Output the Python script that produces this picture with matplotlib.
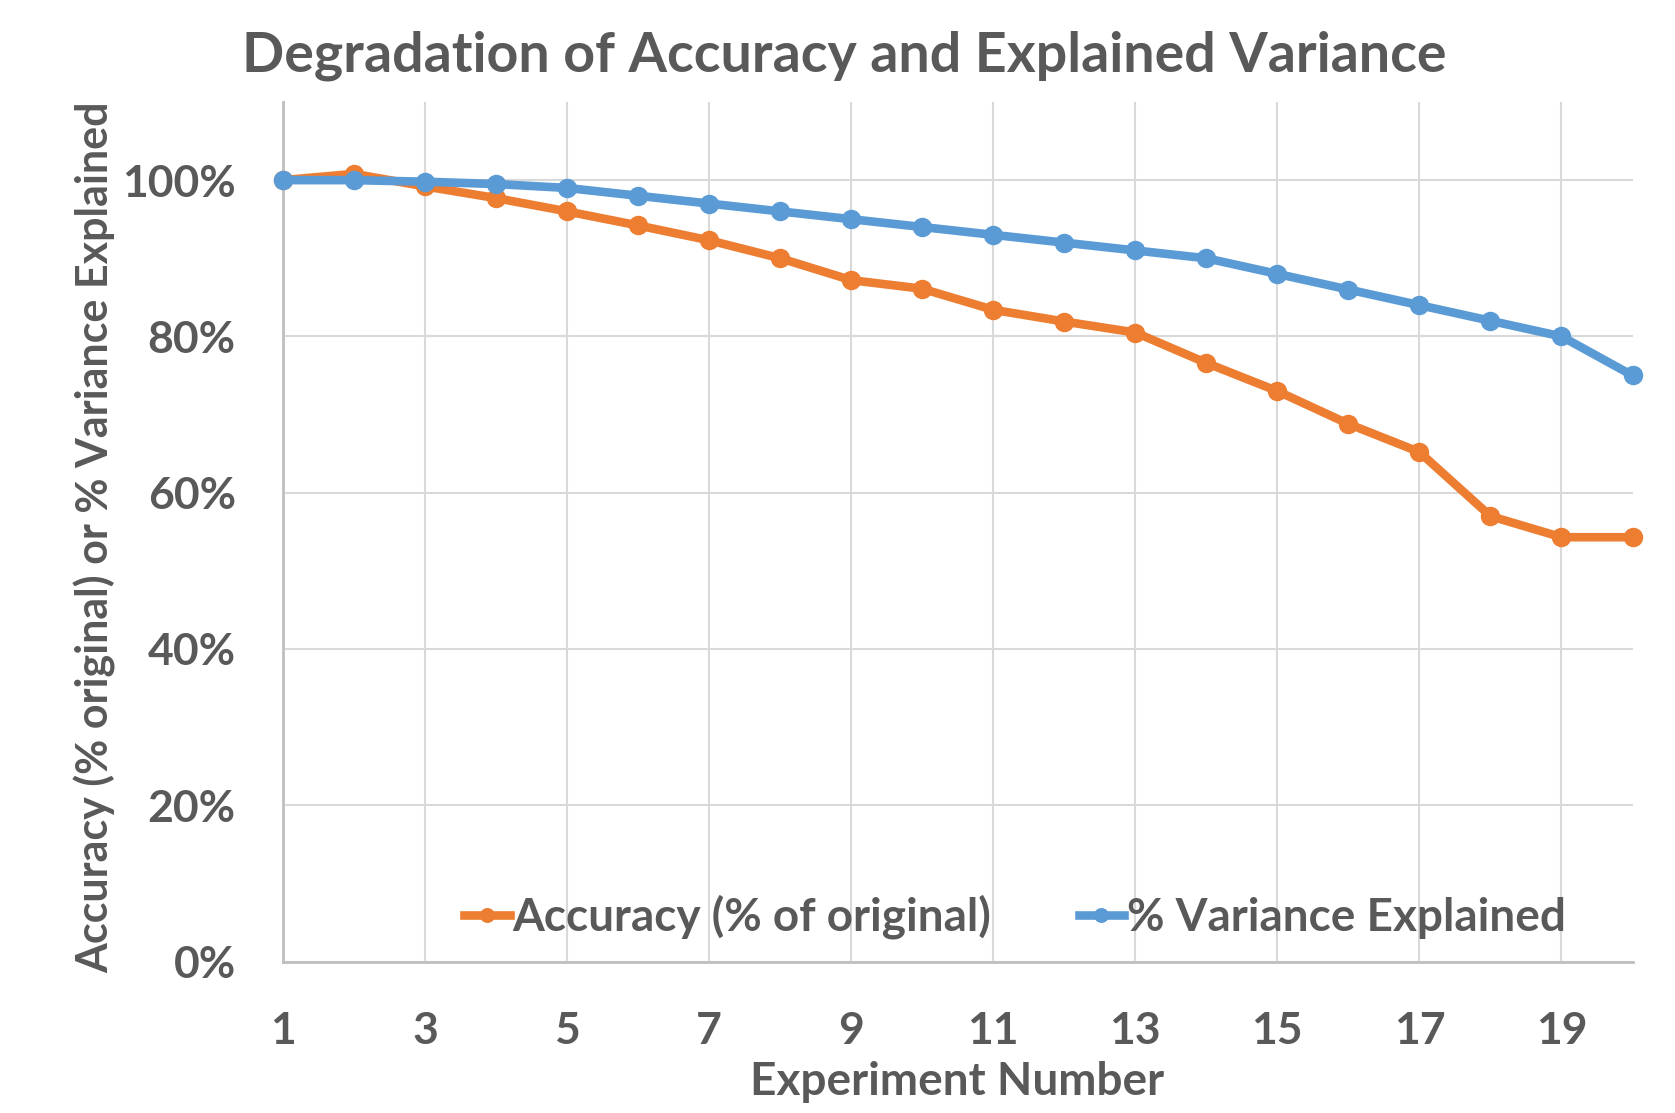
import matplotlib
matplotlib.use("Agg")
import matplotlib.pyplot as plt
from matplotlib.ticker import FuncFormatter, FixedLocator

experiments = list(range(1, 21))
accuracy = [100, 100.8, 99.2, 97.7, 96.0, 94.2, 92.3, 90.0, 87.2, 86.1,
            83.4, 81.9, 80.5, 76.6, 73.0, 68.8, 65.2, 57.0, 54.3, 54.3]
variance = [100, 100, 99.8, 99.5, 99.0, 98.0, 97.0, 96.0, 95.0, 94.0,
            93.0, 92.0, 91.0, 90.0, 88.0, 86.0, 84.0, 82.0, 80.0, 75.0]
x_ticks = [1, 3, 5, 7, 9, 11, 13, 15, 17, 19]
y_ticks = [0, 20, 40, 60, 80, 100]

title = "Degradation of Accuracy and Explained Variance"
xlabel = "Experiment Number"
ylabel = "Accuracy (% original) or % Variance Explained"
labels = ["Accuracy (% of original)", "% Variance Explained"]

TEXT = "#595959"
ORANGE = "#ED7D31"
BLUE = "#5B9BD5"
GRID = "#D9D9D9"
AXIS = "#BFBFBF"

plt.rcParams['font.family'] = ['Lato', 'DejaVu Sans']
plt.rcParams['font.weight'] = 'bold'

fig = plt.figure(figsize=(16.75, 11.13), dpi=100)
ax = fig.add_axes([283/1675, 1 - 961.5/1113, (1632.5-283)/1675, (961.5-102)/1113])

ax.plot(experiments, accuracy, color=ORANGE, lw=6.2, marker='o', ms=13,
        label=labels[0], zorder=3, clip_on=False)
ax.plot(experiments, variance, color=BLUE, lw=6.2, marker='o', ms=13,
        label=labels[1], zorder=4, clip_on=False)

ax.set_xlim(1, 20)
ax.set_ylim(0, 110)
ax.xaxis.set_major_locator(FixedLocator(x_ticks))
ax.yaxis.set_major_locator(FixedLocator(y_ticks))
ax.yaxis.set_major_formatter(FuncFormatter(lambda v, p: f"{int(v)}%"))

ax.grid(True, color=GRID, lw=1.5, zorder=0)
ax.set_axisbelow(True)
for s in ['top', 'right']:
    ax.spines[s].set_visible(False)
for s in ['left', 'bottom']:
    ax.spines[s].set_color(AXIS)
    ax.spines[s].set_linewidth(2)

ax.tick_params(axis='both', length=0, labelsize=32, labelcolor=TEXT)
ax.tick_params(axis='y', pad=34)
ax.tick_params(axis='x', pad=36)
for t in ax.get_xticklabels() + ax.get_yticklabels():
    t.set_fontweight('bold')

fig.text(844/1675, 1 - 56/1113, title, ha='center', va='center',
         fontsize=40, color=TEXT, fontweight='bold')
fig.text(957/1675, 1 - 1082/1113, xlabel, ha='center', va='center',
         fontsize=33, color=TEXT, fontweight='bold')
fig.text(95/1675, 1 - 537/1113, ylabel, ha='center', va='center',
         rotation=90, fontsize=31, color=TEXT, fontweight='bold')

leg = ax.legend(loc='center', bbox_to_anchor=(1015/1675, 1 - 917/1113),
                bbox_transform=fig.transFigure, ncol=2, frameon=False,
                fontsize=33, handlelength=1.0, handletextpad=0.05,
                columnspacing=1.9, markerscale=0.75)
for t in leg.get_texts():
    t.set_color(TEXT)
    t.set_fontweight('bold')

fig.savefig("out.png", dpi=100, facecolor='white')
